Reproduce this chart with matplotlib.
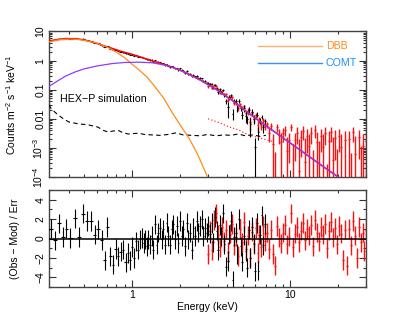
import numpy as np
import matplotlib
matplotlib.use('Agg')
import matplotlib.pyplot as plt
from matplotlib.ticker import NullFormatter, MultipleLocator, LogLocator

plt.rcParams['font.family'] = ['Liberation Sans', 'DejaVu Sans']
plt.rcParams['mathtext.fontset'] = 'custom'
plt.rcParams['mathtext.rm'] = 'Liberation Sans'
plt.rcParams['mathtext.it'] = 'Liberation Sans:italic'

# model components (keV, counts m^-2 s^-1 keV^-1)
dbb_energy = [0.30, 0.35, 0.40, 0.45, 0.50, 0.60, 0.70, 0.80, 0.90, 1.00, 1.10, 1.25,
              1.40, 1.60, 1.80, 2.00, 2.30, 2.60, 3.00, 3.20]
dbb_flux = [4.4, 5.2, 5.5, 5.4, 5.0, 4.0, 2.9, 1.95, 1.25, 0.76, 0.50, 0.27,
            0.125, 0.048, 0.016, 0.0066, 0.0021, 0.0006, 0.0001, 0.00005]

comt_energy = [0.30, 0.34, 0.38, 0.44, 0.50, 0.60, 0.75, 0.90, 1.10, 1.35, 1.70, 2.10,
               2.70, 3.40, 4.30, 5.60, 7.00, 9.00, 12.0, 15.0, 20.0, 25.0]
comt_flux = [0.13, 0.20, 0.29, 0.41, 0.52, 0.65, 0.79, 0.86, 0.88, 0.84, 0.66, 0.42,
             0.21, 0.10, 0.042, 0.014, 0.0058, 0.0022, 0.00072, 0.00030, 0.0001, 0.000042]

total_energy = [0.30, 0.34, 0.38, 0.42, 0.46, 0.50, 0.55, 0.60, 0.67, 0.74, 0.85, 1.0,
                1.2, 1.4, 1.7, 2.1, 2.7, 3.4, 4.3, 5.6, 7.0, 9.0, 12.0, 15.0, 20.0, 25.0, 30.0]
total_flux = [4.7, 5.3, 5.7, 5.7, 5.5, 5.1, 4.5, 3.9, 3.2, 2.7, 2.1, 1.65,
              1.2, 0.92, 0.66, 0.43, 0.22, 0.105, 0.043, 0.014, 0.0058, 0.0022, 0.00072,
              0.0003, 0.0001, 0.000043, 0.000021]

# backgrounds
bkg1_energy = [0.30, 0.31, 0.34, 0.37, 0.40, 0.46, 0.53, 0.61, 0.66, 0.71, 0.76, 0.82, 0.88,
               0.95, 1.02, 1.1, 1.2, 1.33, 1.5, 1.7, 1.9, 2.1, 2.4, 2.7, 3.0, 3.4, 3.8,
               4.2, 4.7, 5.2, 5.8, 6.4, 7.0]
bkg1_flux = [0.030, 0.022, 0.014, 0.010, 0.0078, 0.0067, 0.0062, 0.0052, 0.0040, 0.0035,
             0.0038, 0.0040, 0.0033, 0.0030, 0.0031, 0.0032, 0.0029, 0.0028, 0.0027, 0.0029,
             0.0033, 0.0028, 0.0027, 0.0026, 0.0029, 0.0026, 0.0028, 0.0027, 0.0030, 0.0026,
             0.0028, 0.0025, 0.0027]
bkg2_energy = [3.03, 3.3, 3.6, 4.05, 4.69, 5.42, 6.6, 7.66]
bkg2_flux = [0.010, 0.0085, 0.0072, 0.0054, 0.0042, 0.0028, 0.0021, 0.0017]

# spectrum 1 (black)
black_energy = [0.307, 0.329, 0.347, 0.368, 0.386, 0.409, 0.436, 0.464, 0.492, 0.524, 0.556,
                0.583, 0.612, 0.649, 0.675, 0.701, 0.733, 0.762, 0.792, 0.819, 0.852, 0.881,
                0.912, 0.939, 0.971, 1.005, 1.035, 1.06, 1.097, 1.124, 1.151, 1.185, 1.208,
                1.238, 1.269, 1.300, 1.332, 1.365, 1.398, 1.433, 1.468, 1.504, 1.541, 1.579,
                1.618, 1.658, 1.698, 1.740, 1.783, 1.827, 1.872, 1.918, 1.965, 2.013, 2.063,
                2.113, 2.165, 2.218, 2.273, 2.328, 2.386, 2.444, 2.504, 2.566, 2.629, 2.694,
                2.760, 2.828, 2.897, 2.968, 3.041,
                3.11, 3.19, 3.26, 3.34, 3.42, 3.50, 3.58, 3.67, 3.75, 3.84, 3.93, 4.03, 4.12,
                4.22, 4.32, 4.42, 4.53, 4.63, 4.74, 4.86, 4.97, 5.09, 5.21, 5.33, 5.46, 5.59,
                5.72, 5.86, 6.00, 6.14, 6.28, 6.43, 6.58, 6.74, 6.90]
black_flux = [4.95, 5.12, 5.63, 5.63, 5.88, 5.71, 6.0, 5.53, 5.6, 5.11, 4.69, 4.15, 3.91, 3.38,
              2.98, 3.11, 2.6, 2.39, 2.32, 2.13, 2.02, 1.93, 1.76, 1.74, 1.61, 1.61, 1.48, 1.5,
              1.38, 1.37, 1.31, 1.22, 1.2,
              1.11, 1.11, 1.05, 1.04, 0.93, 1.01, 0.87, 0.90, 0.88, 0.79, 0.80, 0.70, 0.75,
              0.67, 0.61, 0.63, 0.61, 0.54, 0.55, 0.48, 0.54, 0.46, 0.45, 0.37, 0.43, 0.35,
              0.35, 0.29, 0.32, 0.285, 0.30, 0.25, 0.248, 0.243, 0.199, 0.196, 0.176, 0.171,
              0.154, 0.159, 0.118, 0.144, 0.115, 0.083, 0.104, 0.083, 0.098, 0.063, 0.041,
              0.025, 0.056, 0.064, 0.015, 0.041, 0.040, 0.0235, 0.041, 0.023, 0.0139, 0.0238,
              0.0127, 0.0095, 0.020, 0.0064, 0.0174, 0.0101, 0.0011, 0.0139, 0.0035, 0.0087,
              0.0119, 0.0051, 0.0082]
black_err = [0.14, 0.15, 0.16, 0.17, 0.17, 0.17, 0.17, 0.165, 0.156, 0.146, 0.134, 0.123,
             0.114, 0.102, 0.096, 0.09, 0.083, 0.078, 0.072, 0.068, 0.063, 0.06, 0.057, 0.055,
             0.052, 0.05, 0.047, 0.045, 0.043, 0.041, 0.039, 0.037, 0.036,
             0.058, 0.056, 0.054, 0.052, 0.050, 0.047, 0.045, 0.044, 0.042, 0.040, 0.038,
             0.036, 0.035, 0.033, 0.032, 0.030, 0.029, 0.027, 0.026, 0.025, 0.038, 0.036,
             0.034, 0.032, 0.030, 0.028, 0.027, 0.025, 0.024, 0.022, 0.021, 0.019, 0.018,
             0.017, 0.016, 0.014, 0.013, 0.012,
             0.0174, 0.016, 0.0149, 0.0137, 0.0126, 0.0116, 0.0107, 0.0097, 0.009, 0.0082,
             0.0076, 0.014, 0.0094, 0.0086, 0.006, 0.0072, 0.0065, 0.0059, 0.0054, 0.0049,
             0.0044, 0.0062, 0.0056, 0.003, 0.0045, 0.0041, 0.0036, 0.0033, 0.0011, 0.0027,
             0.0016, 0.0022, 0.002, 0.0018, 0.0016]
black_resid = [1.03, -0.2, 1.55, 0.17, 1.03, 0.07, 2.07, 0.17, 2.55, 1.8, 1.8, 0.4, 0.93,
               -0.17, -2.24, 1.17, -1.83, -2.7, -1.07, -1.83, -1.34, -1.14, -2.45, -1.5,
               -2.24, -0.86, -2.0, -0.28, -1.14, -0.1, 0.07, -0.45, -0.1,
               -0.8, -0.1, -0.62, 0.24, -1.14, 1.45, -0.62, 0.59, 1.1, -0.1, 0.93, -0.62,
               1.62, 0.24, -0.62, 0.93, 1.45, -0.1, 1.28, -0.45, 1.8, 0.24, 0.93, -0.8, 1.62,
               -0.1, 0.59, -1.14, 1.1, 0.24, 1.8, 0.59, 1.28, 1.97, 0.24, 1.1, 0.59, 1.28,
               0.5, 1.6, -0.4, 2.2, 0.8, -1.2, 1.4, 0.2, 2.6, -0.6, -2.9, -2.3, 0.4, 1.8,
               -4.3, 0.2, 0.6, -1.6, 2.0, -0.8, -2.4, 0.3, -1.3, -3.0, 0.9, -2.0, 1.2, -0.5,
               -3.4, 1.6, -3.3, 0.4, 2.4, -0.7, 1.5]

# spectrum 2 (red)
red_energy = [3.020, 3.108, 3.199, 3.292, 3.388, 3.487, 3.589, 3.694, 3.802, 3.913, 4.027,
              4.145, 4.266, 4.390, 4.519, 4.651, 4.786, 4.926, 5.070, 5.218, 5.370, 5.527,
              5.689, 5.855, 6.026, 6.202, 6.383, 6.569, 6.761, 6.959, 7.161, 7.371, 7.586,
              7.808, 8.035, 8.270, 8.511, 8.760, 9.016, 9.279, 9.550, 9.829, 10.12, 10.41,
              10.72, 11.03, 11.35, 11.68, 12.02, 12.37, 12.74, 13.11, 13.49, 13.88, 14.29,
              14.71, 15.14, 15.58, 16.03, 16.50, 16.98, 17.48, 17.99, 18.51, 19.05, 19.61,
              20.18, 20.77, 21.38, 22.00, 22.65, 23.31, 23.99, 24.69, 25.41, 26.15, 26.92,
              27.70, 28.51, 29.34, 30.2]
red_flux = [0.133, 0.157, 0.117, 0.144, 0.136, 0.101, 0.080, 0.090, 0.070, 0.071, 0.046,
            0.055, 0.055, 0.036, 0.036, 0.023, 0.032, 0.0235, 0.0276, 0.0159, 0.0183, 0.0075,
            0.0153, 0.0100, 0.0134, 0.0059, 0.0094, 0.0059, 0.0089, 0.0056,
            0.0064, 0.00315, 0.00575, 0.0014, -0.0008, 0.0051, 0.00285, 0.0016, 0.00316,
            0.0040, 0.0008, 0.0018, 0.0053, -0.00015, 0.00185,
            0.00328, 0.00016, 0.00237, 0.00382, 0.00034, 0.00256, 0.00117, 0.00321, -0.00102,
            0.00407, 0.00156, -0.00019, 0.00263, 0.00108, 0.00314, -0.00163, 0.00176,
            0.00345, 0.00039, 0.00227, -0.00098, 0.00262, 0.00109, -0.00406, 0.00182,
            -0.00522, 0.00199, -0.00125, 0.00349, 0.00064, -0.00374, 0.00233, -0.00071,
            0.00118, -0.00243, 0.00175]
red_err = [0.0158, 0.0145, 0.0133, 0.0121, 0.0108, 0.0097, 0.0088, 0.008, 0.0072, 0.0065,
           0.0087, 0.0077, 0.0068, 0.006, 0.0053, 0.0047, 0.0042, 0.0038, 0.0033, 0.0029,
           0.0043, 0.0038, 0.0033, 0.003, 0.0026, 0.0024, 0.0021, 0.0019, 0.0017, 0.0015,
           0.0016, 0.0015, 0.0016, 0.0015, 0.0015, 0.0016, 0.0015, 0.0016, 0.0016, 0.0015,
           0.0015, 0.0015, 0.0015, 0.0015, 0.0015,
           0.0019, 0.0019, 0.0019, 0.0019, 0.0019, 0.0019, 0.0019, 0.0019, 0.0019, 0.0019,
           0.0019, 0.0019, 0.0019, 0.0019, 0.0019, 0.0019, 0.0019, 0.0019, 0.0019, 0.0019,
           0.0019, 0.0019, 0.0019, 0.0019, 0.0019, 0.0019, 0.0019, 0.0019, 0.0019, 0.0019,
           0.0019, 0.0019, 0.0019, 0.0019, 0.0019, 0.0019]
red_resid = [-1.6, 0.8, -1.2, 1.9, 2.6, 0.4, -0.9, 1.2, -0.3, 0.9, -1.4, 0.5, 1.5, -0.7, 0.2,
             -1.8, 1.0, -0.4, 1.7, -1.1, 0.3, -2.0, 0.7, -0.6, 1.1, -1.5, 0.4, -0.9, 1.3,
             -0.3, 0.6, -1.1, 0.9, -1.6, -2.8, 1.3, 0.1, -0.5, 0.6, 1.4, -0.6, 0.2, 2.6,
             -0.9, 0.5, 1.2, -0.4, 0.8, 1.6, -0.2, 1.0, 0.3, 1.4, -0.8, 1.9, 0.6, -0.3, 1.2,
             0.4, 1.5, -1.0, 0.8, 1.7, 0.1, 1.1, -0.6, 1.3, 0.5, -2.2, 0.9, -2.8, 1.0, -0.7,
             1.8, 0.3, -2.0, 1.2, -0.4, 0.6, -1.3, 0.9]


def half_widths(e):
    e = np.asarray(e)
    edges = np.sqrt(e[1:] * e[:-1])
    lo = np.concatenate([[e[0] ** 2 / edges[0]], edges])
    hi = np.concatenate([edges, [e[-1] ** 2 / edges[-1]]])
    return e - lo, hi - e


def draw_log_data(ax, e, y, err, color, lw, z):
    e, y, err = np.asarray(e), np.asarray(y), np.asarray(err)
    dlo, dhi = half_widths(e)
    top = y + err
    show = top > 0
    bot = np.clip(y - err, 1e-6, None)
    ax.vlines(e[show], bot[show], top[show], color=color, lw=lw, zorder=z)
    pos = y > 0
    ax.hlines(y[pos], (e - dlo)[pos], (e + dhi)[pos], color=color, lw=lw, zorder=z)


def draw_resid(ax, e, r, color, lw, z):
    e, r = np.asarray(e), np.asarray(r)
    dlo, dhi = half_widths(e)
    ax.vlines(e, r - 1, r + 1, color=color, lw=lw, zorder=z)
    ax.hlines(r, e - dlo, e + dhi, color=color, lw=lw, zorder=z)


fig = plt.figure(figsize=(4.15, 3.21), dpi=100)
ax1 = fig.add_axes([0.118, 0.4486, 0.764, 0.4533])
ax2 = fig.add_axes([0.118, 0.1059, 0.764, 0.3022])

orange = '#ff8c1a'
purple = '#8c3cff'

# top panel
draw_log_data(ax1, red_energy, red_flux, red_err, '#ff1010', 1.0, 2)
draw_log_data(ax1, black_energy, black_flux, black_err, 'black', 0.8, 3)
ax1.plot(bkg1_energy, bkg1_flux, color='black', lw=0.8, ls=(0, (4, 3)), zorder=4)
ax1.plot(bkg2_energy, bkg2_flux, color='red', lw=0.8, ls=(0, (1, 2)), zorder=4)
ax1.plot(total_energy, total_flux, color='red', lw=1.1, zorder=5)
ax1.plot(dbb_energy, dbb_flux, color=orange, lw=0.9, zorder=6)
ax1.plot(comt_energy, comt_flux, color=purple, lw=0.9, zorder=7)

ax1.set_xscale('log')
ax1.set_yscale('log')
ax1.set_xlim(0.3, 30)
ax1.set_ylim(1e-4, 10)

# legend drawn by hand
ax1.plot([0.659, 0.861], [0.900, 0.900], color='#ffb066', lw=1.0, transform=ax1.transAxes)
ax1.text(0.873, 0.900, 'DBB', color=orange, fontsize=7.7, va='center', transform=ax1.transAxes)
ax1.plot([0.659, 0.861], [0.783, 0.783], color='#3d8ff5', lw=1.0, transform=ax1.transAxes)
ax1.text(0.873, 0.783, 'COMT', color='#1e90ff', fontsize=7.7, va='center', transform=ax1.transAxes)
ax1.text(0.035, 0.536, 'HEX\u2212P simulation', fontsize=7.7, va='center', transform=ax1.transAxes)

ax1.set_yticks([1e-4, 1e-3, 1e-2, 0.1, 1, 10],
               [r'$10^{-4}$', r'$10^{-3}$', '0.01', '0.1', '1', '10'],
               rotation=90, va='center')
ax1.yaxis.set_minor_locator(LogLocator(base=10, subs=np.arange(2, 10), numticks=20))
ax1.yaxis.set_minor_formatter(NullFormatter())
ax1.set_ylabel(r'Counts m$^{-2}$ s$^{-1}$ keV$^{-1}$', fontsize=7.5)
ax1.yaxis.set_label_coords(-0.098, 0.5)

# bottom panel
draw_resid(ax2, red_energy, red_resid, '#ff1010', 1.0, 2)
draw_resid(ax2, black_energy, black_resid, 'black', 0.8, 3)
ax2.axhline(0, color='black', lw=1.1, zorder=5)
ax2.set_xscale('log')
ax2.set_xlim(0.3, 30)
ax2.set_ylim(-5, 5)
ax2.set_yticks([-4, -2, 0, 2, 4], ['\u22124', '\u22122', '0', '2', '4'],
               rotation=90, va='center')
ax2.yaxis.set_minor_locator(MultipleLocator(1))
ax2.set_ylabel('(Obs \u2212 Mod) / Err', fontsize=7.5)
ax2.yaxis.set_label_coords(-0.091, 0.5)
ax2.set_xlabel('Energy (keV)', fontsize=7.5)
ax2.xaxis.set_label_coords(0.5, -0.155)

minor_x = [0.4, 0.5, 0.6, 0.7, 0.8, 0.9, 2, 3, 4, 5, 6, 7, 8, 9, 20, 30]
for ax in (ax1, ax2):
    ax.set_xticks([1, 10], ['1', '10'])
    ax.set_xticks(minor_x, minor=True)
    ax.xaxis.set_minor_formatter(NullFormatter())
    ax.tick_params(which='both', direction='in', top=True, right=True,
                   labelsize=7.5, width=0.8, color='#333333', pad=2.5)
    ax.tick_params(which='major', length=5)
    ax.tick_params(which='minor', length=2.5)
    for s in ax.spines.values():
        s.set_linewidth(1.0)
        s.set_color('#444444')
ax1.tick_params(axis='x', labelbottom=False)

fig.savefig('out.png', dpi=100)
